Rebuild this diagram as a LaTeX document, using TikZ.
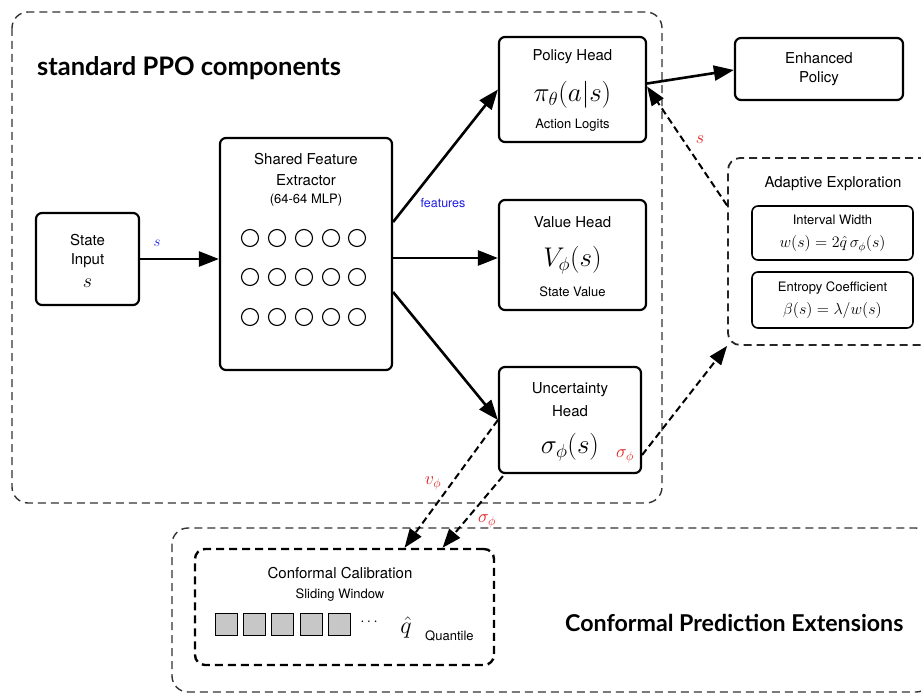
\RequirePackage{fix-cm}
\documentclass[tikz,border=0pt]{standalone}
\usepackage{fontspec}
\setsansfont{TeX Gyre Heros}
\newfontfamily\headfont{Lato}
\usetikzlibrary{arrows.meta}
\definecolor{lblred}{RGB}{228,30,30}
\definecolor{lblblue}{RGB}{30,30,228}
\begin{document}
\begin{tikzpicture}[x=1pt,y=-1pt,
  box/.style={draw, line width=2.2pt, rounded corners=6pt, fill=white, inner sep=0pt},
  subbox/.style={draw, line width=1.6pt, rounded corners=6pt, fill=white, inner sep=0pt},
  group/.style={draw=black!80, line width=1.4pt, dash pattern=on 8pt off 5pt, rounded corners=16pt},
  calbox/.style={draw, line width=2.4pt, dash pattern=on 8pt off 5pt, rounded corners=10pt, inner sep=0pt},
  flow/.style={line width=2.6pt, -{Triangle[length=20pt,width=15pt]}},
  feed/.style={line width=2pt, dash pattern=on 7pt off 4pt, -{Triangle[length=19pt,width=14pt]}},
  lbl/.style={font=\sffamily\fontsize{15}{18}\selectfont, inner sep=0pt},
  small/.style={font=\sffamily\fontsize{13}{15}\selectfont, inner sep=0pt},
  bigmath/.style={font=\fontsize{27}{30}\selectfont, inner sep=0pt},
  formula/.style={font=\fontsize{16}{18}\selectfont, inner sep=0pt},
  title/.style={inner sep=0pt},
  redlbl/.style={text=lblred, font=\fontsize{18}{20}\selectfont, inner sep=0pt},
  bluelbl/.style={text=lblblue, font=\fontsize{15}{17}\selectfont, inner sep=0pt},
  cell/.style={draw, line width=1pt, fill=black!22, minimum size=22pt, inner sep=0pt},
  unit/.style={draw, line width=1.1pt, circle, minimum size=17pt, inner sep=0pt}]
\useasboundingbox (0,0) rectangle (921,695);
\clip (0,0) rectangle (921,695);

% group frames
\draw[group] (12,12) rectangle (662,503);
\draw[group] (172,528) rectangle (932,692);
\node[title, anchor=west, font=\headfont\bfseries\fontsize{25.5}{30}\selectfont] (ppotitle) at (37,68) {standard PPO components};
\node[title, anchor=west, font=\headfont\bfseries\fontsize{23.2}{28}\selectfont] (cptitle) at (565,623) {Conformal Prediction Extensions};

% state input
\node[box, minimum width=103pt, minimum height=92pt] (state) at (87.5,259) {};
\node[lbl] (stxt1) at (87.5,240) {State};
\node[lbl] (stxt2) at (87.5,261) {Input};
\node[font=\fontsize{20}{22}\selectfont, inner sep=0pt] (stxt3) at (87.5,283) {$s$};

% shared feature extractor
\node[box, minimum width=172pt, minimum height=232pt] (sfe) at (306,254) {};
\node[lbl] (sfe1) at (306,159) {Shared Feature};
\node[lbl] (sfe2) at (306,180) {Extractor};
\node[small] (sfe3) at (306,200) {(64-64 MLP)};
\foreach \r/\yy in {1/238,2/277,3/317}{
  \foreach \c/\xx in {1/250,2/277,3/304,4/331,5/357}{
    \node[unit] (u\r\c) at (\xx,\yy) {};
  }
}

% heads
\node[box, minimum width=147pt, minimum height=105pt] (policy) at (572.5,89.5) {};
\node[lbl] (pol1) at (572.5,57) {Policy Head};
\node[bigmath] (pol2) at (572.5,95) {$\pi_\theta(a|s)$};
\node[small] (pol3) at (572.5,125) {Action Logits};

\node[box, minimum width=147pt, minimum height=110pt] (value) at (572.5,255) {};
\node[lbl] (val1) at (572.5,222) {Value Head};
\node[bigmath] (val2) at (572.5,260) {$V_\phi(s)$};
\node[small] (val3) at (572.5,292) {State Value};

\node[box, minimum width=142pt, minimum height=106pt] (unc) at (570,420) {};
\node[lbl] (unc1) at (570,390) {Uncertainty};
\node[lbl] (unc2) at (570,411) {Head};
\node[bigmath] (unc3) at (570,447) {$\sigma_\phi(s)$};

\node[box, minimum width=168pt, minimum height=62pt] (enh) at (819,69) {};
\node[lbl] (enh1) at (819,58) {Enhanced};
\node[lbl] (enh2) at (819,79) {Policy};

% adaptive exploration
\node[draw=black!85, line width=1.8pt, dash pattern=on 8pt off 5pt, rounded corners=12pt,
      minimum width=210pt, minimum height=187pt, inner sep=0pt] (adapt) at (833,251.5) {};
\node[lbl] (ad0) at (833,184) {Adaptive Exploration};
\node[subbox, minimum width=161pt, minimum height=54pt] (iw) at (832.5,233) {};
\node[small] (iw1) at (832.5,220) {Interval Width};
\node[formula] (iw2) at (832.5,244) {$w(s) = 2\hat{q}\,\sigma_\phi(s)$};
\node[subbox, minimum width=161pt, minimum height=56pt] (ec) at (832.5,300) {};
\node[small] (ec1) at (832.5,288) {Entropy Coefficient};
\node[formula] (ec2) at (832.5,310) {$\beta(s) = \lambda/w(s)$};

% conformal calibration
\node[calbox, minimum width=299pt, minimum height=116pt] (calib) at (344.5,607) {};
\node[lbl] (cal1) at (340,573) {Conformal Calibration};
\node[small] (cal2) at (340,595) {Sliding Window};
\foreach \i/\xx in {1/226.5,2/254.5,3/282.5,4/311,5/339}{
  \node[cell] (w\i) at (\xx,624) {};
}
\node[font=\fontsize{15}{18}\selectfont, inner sep=0pt] (dots) at (369,622) {$\cdots$};
\node[font=\fontsize{24}{26}\selectfont, inner sep=0pt] (qhat) at (406,627) {$\hat{q}$};
\node[small, anchor=west] (quant) at (425,636) {Quantile};

% main flow
\draw[flow] (state.east |- 0,259) -- (sfe.west |- 0,259);
\node[bluelbl] (slbl) at (157,243) {$s$};
\draw[flow] ([yshift=32pt]sfe.east) -- (policy.west);
\draw[flow] (sfe.east |- 0,258) -- (value.west |- 0,258);
\draw[flow] ([yshift=-38pt]sfe.east) -- (unc.west);
\node[bluelbl, font=\sffamily\fontsize{12.5}{14}\selectfont] (feat) at (443,203) {features};
\draw[flow] ([yshift=6pt]policy.east) -- ([yshift=-1pt]enh.west);

% feedback paths
\draw[feed] ([yshift=46pt]adapt.west) -- ([yshift=3pt]policy.east);
\node[redlbl] (sred) at (700,140) {$s$};
\draw[feed] ([yshift=-35pt]unc.east) -- (adapt.south west);
\node[redlbl] (sig1) at (625,456) {$\sigma_\phi$};
\draw[feed] (unc.west) -- ([xshift=60pt]calib.north);
\node[redlbl] (vlbl) at (433,483) {$v_\phi$};
\draw[feed] ([xshift=5pt,yshift=-2pt]unc.south west) -- ([xshift=98pt]calib.north);
\node[redlbl] (sig2) at (487,521) {$\sigma_\phi$};
\end{tikzpicture}
\end{document}
